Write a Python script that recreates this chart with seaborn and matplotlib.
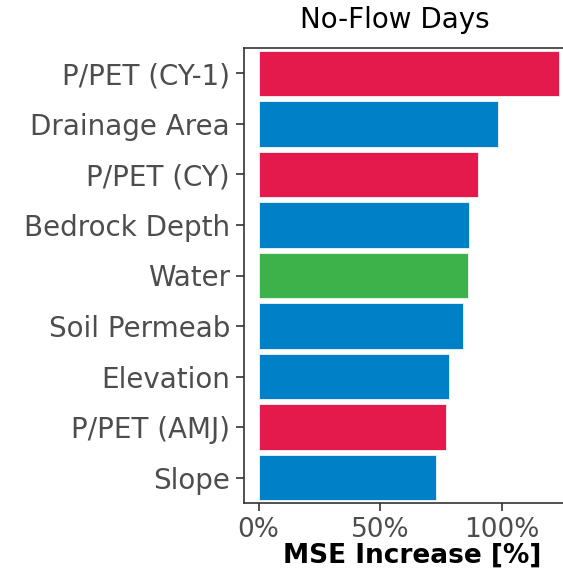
import matplotlib
matplotlib.use("Agg")
import matplotlib.pyplot as plt
import seaborn as sns
import pandas as pd
from matplotlib.ticker import FuncFormatter

variables = ["P/PET (CY-1)", "Drainage Area", "P/PET (CY)", "Bedrock Depth", "Water",
             "Soil Permeab", "Elevation", "P/PET (AMJ)", "Slope"]
mse_increase = [123.5, 98.5, 90, 86.5, 86, 84, 78, 77, 73]
groups = ["Climate", "Physical", "Climate", "Physical", "Land Use",
          "Physical", "Physical", "Climate", "Physical"]
group_colors = {"Climate": "#E31A4B", "Physical": "#0080C6", "Land Use": "#3DB24B"}
xticks = [0, 50, 100]

df = pd.DataFrame({"var": variables, "mse": mse_increase, "grp": groups})

sns.set_style("white")
plt.rcParams["font.family"] = ["DejaVu Sans"]

fig = plt.figure(figsize=(5.63, 5.72), dpi=100)
ax = fig.add_axes([244/563, 1 - 503/572, (580-244)/563, (503-48)/572])

sns.barplot(data=df, x="mse", y="var", hue="grp", palette=group_colors,
            order=variables, dodge=False, width=0.9, ax=ax, legend=False,
            saturation=1, edgecolor="#f4f4f4", linewidth=0.6)

ax.set_xlim(-6, 132)
ax.set_xticks(xticks)
ax.xaxis.set_major_formatter(FuncFormatter(lambda v, p: f"{int(v)}%"))
ax.set_ylabel("")
ax.set_xlabel("MSE Increase [%]", fontsize=19, fontweight="bold", color="black", labelpad=0)
ax.tick_params(axis="y", which="major", labelsize=20, labelcolor="#4D4D4D",
               length=6, width=1.2, color="#333333", direction="out", pad=4)
ax.tick_params(axis="x", which="major", labelsize=19, labelcolor="#4D4D4D",
               length=6, width=1.2, color="#333333", direction="out", pad=4)
ax.tick_params(left=True, bottom=True)
for s in ax.spines.values():
    s.set_color("#333333")
    s.set_linewidth(1.2)
ax.spines["right"].set_visible(False)

fig.text(395/563, 1 - 20/572, "No-Flow Days", ha="center", va="center",
         fontsize=20, color="black")

fig.savefig("out.png", dpi=100)
